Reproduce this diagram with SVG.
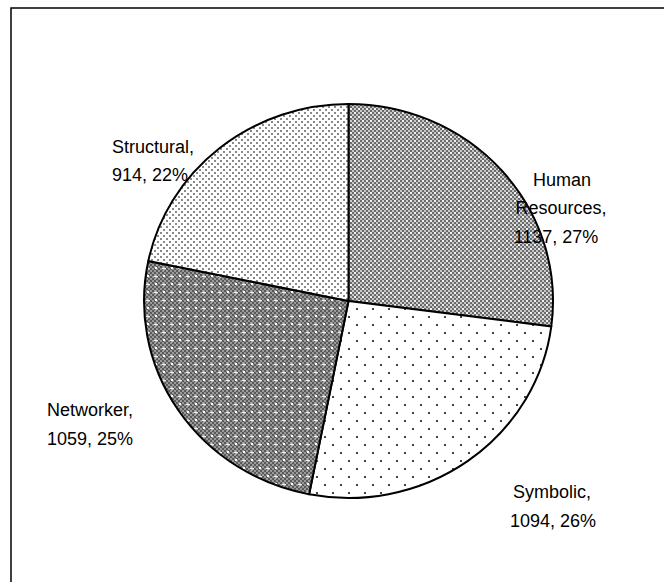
<svg xmlns="http://www.w3.org/2000/svg" width="664" height="582" viewBox="0 0 664 582">
<style>
.lbl{font-family:"Liberation Sans",Arial,sans-serif;font-size:18px;fill:#000;text-anchor:middle}
.sl{stroke:#000;stroke-width:2;stroke-linejoin:round}
</style>
<defs>
<pattern id="pHR" width="8" height="8" patternUnits="userSpaceOnUse">
<rect width="8" height="8" fill="#c8c8c8"/>
<path d="M0 0h2v2h-2zM4 0h2v2h-2zM2 2h2v2h-2zM6 2h2v2h-2zM0 4h2v2h-2zM4 4h2v2h-2zM2 6h2v2h-2zM6 6h2v2h-2z" fill="#6a6a6a"/>
<rect x="2" y="0" width="2" height="2" fill="#f4f4f4"/>
<rect x="6" y="4" width="2" height="2" fill="#f4f4f4"/>
</pattern>
<pattern id="pSym" width="16" height="16" patternUnits="userSpaceOnUse">
<rect width="16" height="16" fill="#fff"/>
<rect x="4" y="4" width="2" height="2" fill="#444"/>
<rect x="12" y="12" width="2" height="2" fill="#444"/>
</pattern>
<pattern id="pNet" width="16" height="16" patternUnits="userSpaceOnUse">
<rect width="16" height="16" fill="#5a5a5a"/>
<path d="M0 0h2v2h-2zM4 0h2v2h-2zM8 0h2v2h-2zM12 0h2v2h-2zM2 2h2v2h-2zM6 2h2v2h-2zM10 2h2v2h-2zM14 2h2v2h-2zM0 4h2v2h-2zM4 4h2v2h-2zM8 4h2v2h-2zM12 4h2v2h-2zM2 6h2v2h-2zM6 6h2v2h-2zM10 6h2v2h-2zM14 6h2v2h-2zM0 8h2v2h-2zM4 8h2v2h-2zM8 8h2v2h-2zM12 8h2v2h-2zM2 10h2v2h-2zM6 10h2v2h-2zM10 10h2v2h-2zM14 10h2v2h-2zM0 12h2v2h-2zM4 12h2v2h-2zM8 12h2v2h-2zM12 12h2v2h-2zM2 14h2v2h-2zM6 14h2v2h-2zM10 14h2v2h-2zM14 14h2v2h-2z" fill="#9a9a9a"/>
<rect x="3" y="3" width="2" height="2" fill="#fff"/>
<rect x="11" y="11" width="2" height="2" fill="#fff"/>
<path d="M2 12h4v1h-4zM3.5 10.5h1v4h-1zM10 4h4v1h-4zM11.5 2.5h1v4h-1z" fill="#eee"/>
</pattern>
<pattern id="pStr" width="6" height="6" patternUnits="userSpaceOnUse">
<rect width="6" height="6" fill="#fff"/>
<rect x="1" y="1" width="2" height="2" fill="#8a8a8a"/>
<rect x="4" y="4" width="2" height="2" fill="#8a8a8a"/>
</pattern>
</defs>
<rect x="11" y="8" width="800" height="800" fill="#fff" stroke="#000" stroke-width="1.5"/>
<g id="slices">
<g id="human-resources"><path class="sl" fill="url(#pHR)" d="M348.5 301 L348.5 104 A204.5 197 0 0 1 551.3 326.4 Z"/></g>
<g id="symbolic"><path class="sl" fill="url(#pSym)" d="M348.5 301 L551.3 326.4 A204.5 197 0 0 1 309.1 494.3 Z"/></g>
<g id="networker"><path class="sl" fill="url(#pNet)" d="M348.5 301 L309.1 494.3 A204.5 197 0 0 1 148.3 261 Z"/></g>
<g id="structural"><path class="sl" fill="url(#pStr)" d="M348.5 301 L148.3 261 A204.5 197 0 0 1 348.5 104 Z"/></g>
</g>
<g id="labels">
<g id="label-hr"><text class="lbl" x="562" y="186">Human</text><text class="lbl" x="561" y="214">Resources,</text><text class="lbl" x="556" y="243">1137, 27%</text></g>
<g id="label-structural"><text class="lbl" x="153" y="153">Structural,</text><text class="lbl" x="150" y="181">914, 22%</text></g>
<g id="label-networker"><text class="lbl" x="90" y="416">Networker,</text><text class="lbl" x="90" y="445">1059, 25%</text></g>
<g id="label-symbolic"><text class="lbl" x="552" y="498">Symbolic,</text><text class="lbl" x="553" y="527">1094, 26%</text></g>
</g>
</svg>
